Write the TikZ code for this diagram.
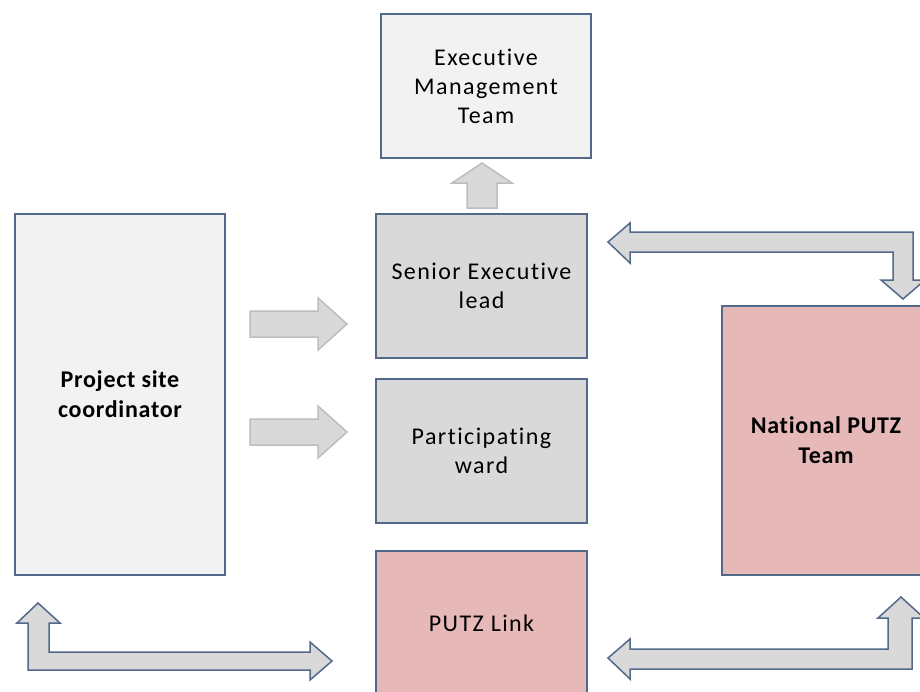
\documentclass[tikz,border=0pt]{standalone}
\usepackage{fontspec}
\setmainfont{Carlito}
\newfontfamily\plainfont[LetterSpace=6,Ligatures=NoCommon]{Carlito}
\newfontfamily\heavyfont[LetterSpace=3,Ligatures=NoCommon]{Carlito}

\definecolor{frameblue}{HTML}{52698A}
\definecolor{palegray}{HTML}{F2F2F2}
\definecolor{midgray}{HTML}{D9D9D9}
\definecolor{rosefill}{HTML}{E6B9B8}
\definecolor{arrowedge}{HTML}{BDBDBD}

\tikzset{
	unit/.style={draw=frameblue, line width=1.5pt, align=center, inner sep=0pt,
		font=\plainfont\fontsize{24}{29}\selectfont},
	lead/.style={unit, font=\heavyfont\bfseries\fontsize{24}{30}\selectfont},
	flow/.style={fill=midgray, draw=arrowedge, line width=1.5pt, line join=miter},
	link/.style={fill=midgray, draw=frameblue, line width=1.5pt, line join=miter}
}

\begin{document}
\begin{tikzpicture}[x=1pt,y=-1pt]

		\clip (0,0) rectangle (920,691);
		\fill [white] (0,0) rectangle (920,691);

		% boxes
		\node [unit, fill=palegray, minimum width=210pt, minimum height=144pt] (emt) at (486,86) {Executive\\Management\\Team};
		\node [unit, fill=midgray, minimum width=211pt, minimum height=144pt] (sel) at (481.5,286) {Senior Executive\\lead};
		\node [unit, fill=midgray, minimum width=211pt, minimum height=144pt] (ward) at (481.5,451) {Participating\\ward};
		\node [unit, fill=rosefill, minimum width=211pt, minimum height=144pt] (putzlink) at (481.5,623) {PUTZ Link};
		\node [lead, fill=palegray, minimum width=210pt, minimum height=361pt] (psc) at (120,394.5) {Project site\\coordinator};
		\node [lead, fill=rosefill, minimum width=208pt, minimum height=269pt] (national) at (826,440.5) {National PUTZ\\Team};

		% straight block arrows
		\draw [flow] (467,208) -- (467,183) -- (452,183) -- (482,163) -- (512,183) -- (497,183) -- (497,208) -- cycle;
		\foreach \yy in {324,432}
			\draw [flow] (250,\yy-13) -- (318,\yy-13) -- (318,\yy-26) -- (347,\yy) -- (318,\yy+26) -- (318,\yy+13) -- (250,\yy+13) -- cycle;

		% bent double arrows
		\draw [link] (608,242) -- (630,223) -- (630,232) -- (913,232) -- (913,280) -- (925,280) -- (903,299)
			-- (881,280) -- (893,280) -- (893,252) -- (630,252) -- (630,263) -- cycle;
		\draw [link] (38,603) -- (60,623) -- (49,623) -- (49,652) -- (310,652) -- (310,642) -- (332,661)
			-- (310,680) -- (310,670) -- (28,670) -- (28,623) -- (17,623) -- cycle;
		\draw [link] (608,658) -- (630,639) -- (630,649) -- (888,649) -- (888,618) -- (878,618) -- (901,597)
			-- (924,618) -- (912,618) -- (912,669) -- (630,669) -- (630,679) -- cycle;

	\end{tikzpicture}
\end{document}
